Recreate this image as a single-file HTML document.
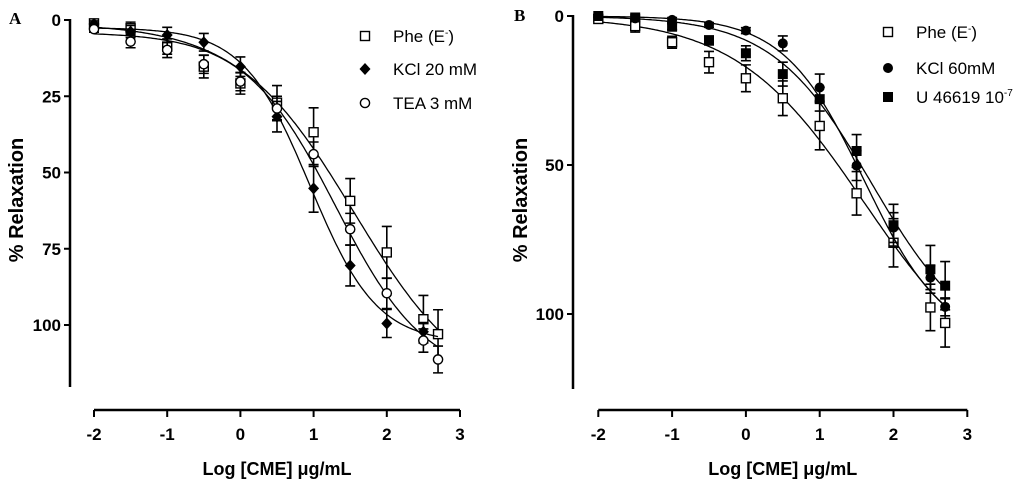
<!DOCTYPE html>
<html><head><meta charset="utf-8"><style>
body{margin:0;background:#fff;}
svg{display:block;font-family:"Liberation Sans",Arial,sans-serif;}
</style></head><body>
<svg id="chart" width="1024" height="487" viewBox="0 0 1024 487"></svg>
<script>
const xValues=[-2,-1.5,-1,-0.5,0,0.5,1,1.5,2,2.5,2.7];
const xTickLabels=["-2","-1","0","1","2","3"];
const aYTickLabels=["0","25","50","75","100"];
const bYTickLabels=["0","50","100"];
// Panel A
const aPheMean=[1.1,2.7,8.7,15.3,20.8,27.1,36.8,59.3,76.2,98.1,103];
const aPheErr=[1,2,2.5,3.7,3.5,5.6,8,7.3,8.5,7.8,8];
const aKclMean=[1.3,3.8,4.9,7.3,15.3,31.7,55.2,80.5,99.5,102.2];
const aKclErr=[1,2,2.5,2.9,3.2,5,7.8,6.7,4.6,3];
const aTeaMean=[3,7.1,9.8,14.5,20.2,29,44,68.6,89.6,105.1,111.3];
const aTeaErr=[1,2,2.5,3,3,4,4,5.2,5,3.8,4.4];
// Fit params [top, bottom, logEC50, hill]
const aPheFit=[1,125,1.55,0.55];
const aKclFit=[2.5,106,0.95,0.95];
const aTeaFit=[4,118,1.3,0.7];
// Panel B
const bPheMean=[1,3.4,8.8,15.5,20.9,27.6,36.9,59.5,76.1,97.8,103];
const bPheErr=[0.8,2,2,3.6,4.5,5.8,8,7.3,8.1,7.8,8.1];
const bKcl60Mean=[0,0.8,1.3,3,4.9,9.2,24,50.2,71,87.8,97.6];
const bKcl60Err=[0.5,0.5,0.8,0.8,1,2.5,4.5,5,5,4,3];
const bUMean=[0,0.5,3.6,8.2,12.5,19.5,27.9,45.3,70.2,85,90.5];
const bUErr=[0.5,0.8,1,1.5,2.5,4,4,5.5,7,8,8.1];
const bPheFit=[0,125,1.6,0.5];
const bKclFit=[0,110,1.6,0.8];
const bUFit=[0,112,1.7,0.65];

const NS="http://www.w3.org/2000/svg";
const svg=document.getElementById('chart');
function mk(tag,at,parent){const e=document.createElementNS(NS,tag);for(const k in at)e.setAttribute(k,at[k]);(parent||svg).appendChild(e);return e;}
function hill(p,x){return p[0]+(p[1]-p[0])/(1+Math.pow(10,(p[2]-x)*p[3]));}

function panel(cfg){
  const g=mk('g',{});
  
  
  const sx=v=>cfg.x0+(v+2)*cfg.xs;
  const sy=v=>cfg.y0+v*cfg.ys;
  const ya=mk('line',{x1:cfg.ax,y1:sy(0)-1,x2:cfg.ax,y2:cfg.yEnd,stroke:'#000','stroke-width':2.5},g);
  
  
  cfg.yTicks.forEach(t=>{
    const v=parseFloat(t);
    mk('line',{x1:cfg.ax-6,y1:sy(v),x2:cfg.ax,y2:sy(v),stroke:'#000','stroke-width':2},g);
    const tx=mk('text',{x:cfg.ax-9,y:sy(v)+6,'text-anchor':'end','font-size':17,'font-weight':'bold'},g);
    tx.textContent=t;
    
    
  });
  const yt=mk('text',{x:0,y:0,'text-anchor':'middle','font-size':20,'font-weight':'bold',transform:`translate(${cfg.ytx},${cfg.yty}) rotate(-90)`},g);
  yt.textContent='% Relaxation';
  
  
  const xa=mk('line',{x1:sx(-2),y1:410,x2:sx(3),y2:410,stroke:'#000','stroke-width':2.5},g);
  
  
  xTickLabels.forEach(t=>{
    const v=parseFloat(t);
    mk('line',{x1:sx(v),y1:410,x2:sx(v),y2:417,stroke:'#000','stroke-width':2},g);
    const tx=mk('text',{x:sx(v),y:440,'text-anchor':'middle','font-size':17,'font-weight':'bold'},g);
    tx.textContent=t;
    
    
  });
  const xt=mk('text',{x:(sx(-2)+sx(3))/2,y:475,'text-anchor':'middle','font-size':18,'font-weight':'bold'},g);
  xt.textContent='Log [CME] μg/mL';
  
  
  const pl=mk('text',{x:cfg.lx,y:cfg.ly,'font-size':17,'font-weight':'bold','font-family':'Liberation Serif,serif'},g);
  pl.textContent=cfg.letter;
  
  
  cfg.series.forEach((s,si)=>{
    const sg=mk('g',{},g);
    
    
    let d='';
    for(let i=0;i<=200;i++){const x=-2+i*4.7/200;d+=(i?'L':'M')+sx(x).toFixed(1)+','+sy(hill(s.fit,x)).toFixed(1);}
    const c=mk('path',{d:d,fill:'none',stroke:'#000','stroke-width':1.3},sg);
    
    
    s.mean.forEach((m,i)=>{
      const px=sx(xValues[i]),py=sy(m),e=s.err[i]*cfg.ys;
      const eb=mk('path',{d:`M${px},${py-e}V${py+e}M${px-5},${py-e}H${px+5}M${px-5},${py+e}H${px+5}`,stroke:'#000','stroke-width':1.6,fill:'none'},sg);
      
      
      const mkr=marker(s.shape,px,py,sg);
      
      
    });
    const ly=cfg.legY[si];
    const lm=marker(s.shape,cfg.legX,ly,g);
    
    
    const lt=mk('text',{x:cfg.legX+28,y:ly+6,'font-size':17},g);
    lt.innerHTML=s.label;
    
    
  });
}
function marker(shape,x,y,p){
  if(shape==='osq')return mk('rect',{x:x-4.5,y:y-4.5,width:9,height:9,fill:'#fff',stroke:'#000','stroke-width':1.4},p);
  if(shape==='fsq')return mk('rect',{x:x-5,y:y-5,width:10,height:10,fill:'#000'},p);
  if(shape==='dia')return mk('path',{d:`M${x},${y-6}L${x+5.5},${y}L${x},${y+6}L${x-5.5},${y}Z`,fill:'#000'},p);
  if(shape==='oc')return mk('circle',{cx:x,cy:y,r:4.6,fill:'#fff',stroke:'#000','stroke-width':1.4},p);
  return mk('circle',{cx:x,cy:y,r:5,fill:'#000'},p);
}
panel({name:'panel-a',letter:'A',lx:9,ly:24,x0:94,xs:73.2,y0:20,ys:3.05,ax:70,yEnd:387,yTicks:aYTickLabels,ytx:23,yty:200,
  legX:365,legY:[36,69,103],
  series:[
    {key:'phe',shape:'osq',mean:aPheMean,err:aPheErr,fit:aPheFit,label:'Phe (E<tspan font-size="10" dy="-6">-</tspan><tspan dy="6">)</tspan>'},
    {key:'kcl20',shape:'dia',mean:aKclMean,err:aKclErr,fit:aKclFit,label:'KCl 20 mM'},
    {key:'tea',shape:'oc',mean:aTeaMean,err:aTeaErr,fit:aTeaFit,label:'TEA 3 mM'}]});
panel({name:'panel-b',letter:'B',lx:514,ly:21,x0:598.3,xs:73.8,y0:16,ys:2.98,ax:573,yEnd:389,yTicks:bYTickLabels,ytx:527,yty:200,
  legX:888,legY:[32,68,97],
  series:[
    {key:'phe',shape:'osq',mean:bPheMean,err:bPheErr,fit:bPheFit,label:'Phe (E<tspan font-size="10" dy="-6">-</tspan><tspan dy="6">)</tspan>'},
    {key:'kcl60',shape:'fc',mean:bKcl60Mean,err:bKcl60Err,fit:bKclFit,label:'KCl 60mM'},
    {key:'u46619',shape:'fsq',mean:bUMean,err:bUErr,fit:bUFit,label:'U 46619 10<tspan font-size="10" dy="-7">-7</tspan>'}]});
</script>
</body></html>
